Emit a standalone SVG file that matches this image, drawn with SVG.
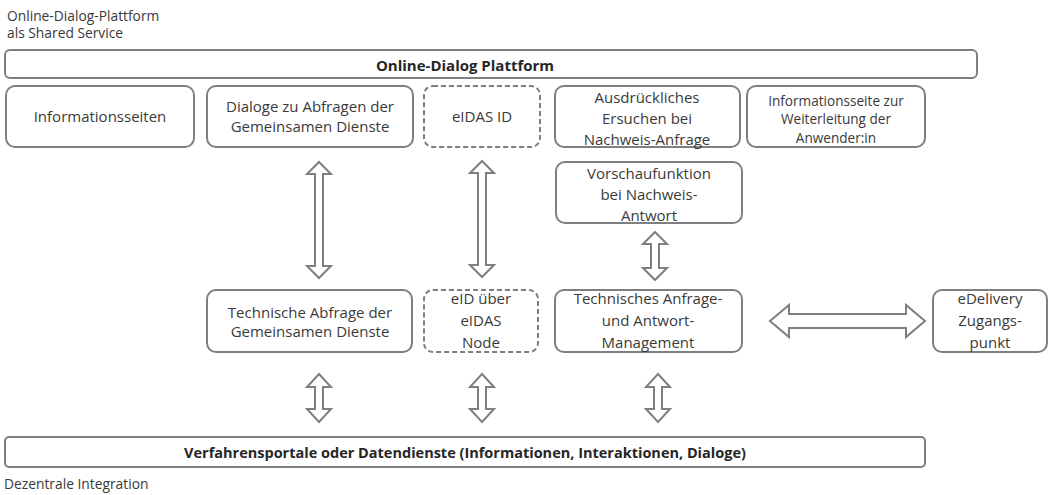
<svg xmlns="http://www.w3.org/2000/svg" width="1049" height="495" viewBox="0 0 1049 495">
<style>
.box{fill:#fff;stroke:#7f7f7f;stroke-width:2}
.dash{fill:#fff;stroke:#7f7f7f;stroke-width:2;stroke-dasharray:5 3}
.t{font-family:"Open Sans","Liberation Sans",sans-serif;font-size:15px;fill:#3a3a3a;text-anchor:middle;dominant-baseline:central}
.s{font-family:"Open Sans","Liberation Sans",sans-serif;font-size:13.8px;fill:#3a3a3a}
.b{font-weight:bold;fill:#262626}
.arr{fill:#fff;stroke:#7f7f7f;stroke-width:2;stroke-linejoin:miter}
</style>
<rect width="1049" height="495" fill="#fff"/>
<text class="s" x="7" y="21">Online-Dialog-Plattform</text>
<text class="s" x="7" y="38">als Shared Service</text>
<text class="s" x="4" y="489">Dezentrale Integration</text>

<g id="connectors">
<path class="arr" d="M319,162 L331,174 L323,174 L323,266 L331,266 L319,278 L307,266 L315,266 L315,174 L307,174 Z"/>
<path class="arr" d="M482,161 L494,173 L486,173 L486,265 L494,265 L482,277 L470,265 L478,265 L478,173 L470,173 Z"/>
<path class="arr" d="M655,232 L667,244 L659,244 L659,268 L667,268 L655,280 L643,268 L651,268 L651,244 L643,244 Z"/>
<path class="arr" d="M770,321 L789,305 L789,314 L906,314 L906,305 L925,321 L906,337 L906,328 L789,328 L789,337 Z"/>
<path class="arr" d="M319,374 L331,387 L323,387 L323,409 L331,409 L319,422 L307,409 L315,409 L315,387 L307,387 Z"/>
<path class="arr" d="M482,374 L494,387 L486,387 L486,409 L494,409 L482,422 L470,409 L478,409 L478,387 L470,387 Z"/>
<path class="arr" d="M658,374 L670,387 L662,387 L662,409 L670,409 L658,422 L646,409 L654,409 L654,387 L646,387 Z"/>
</g>

<g id="platform">
<rect class="box" x="5" y="50" width="972" height="28" rx="5"/>
<text class="t b" x="465" y="64.5">Online-Dialog Plattform</text>
</g>
<g id="informationsseiten">
<rect class="box" x="6" y="86" width="188" height="61" rx="9"/>
<text class="t" x="100" y="116">Informationsseiten</text>
</g>
<g id="dialoge">
<rect class="box" x="207" y="86" width="206" height="61" rx="9"/>
<text class="t" x="310" y="106">Dialoge zu Abfragen der</text>
<text class="t" x="310" y="126">Gemeinsamen Dienste</text>
</g>
<g id="eidas-id">
<rect class="dash" x="424" y="86" width="116" height="61" rx="9"/>
<text class="t" x="482" y="116">eIDAS ID</text>
</g>
<g id="ersuchen">
<rect class="box" x="555" y="86" width="185" height="61" rx="9"/>
<text class="t" x="647" y="97">Ausdrückliches</text>
<text class="t" x="647" y="118">Ersuchen bei</text>
<text class="t" x="647" y="139">Nachweis-Anfrage</text>
</g>
<g id="weiterleitung">
<rect class="box" x="747" y="86" width="178" height="61" rx="9"/>
<text class="t" x="836" y="100" style="font-size:13.6px">Informationsseite zur</text>
<text class="t" x="836" y="118" style="font-size:13.6px">Weiterleitung der</text>
<text class="t" x="836" y="137" style="font-size:13.6px">Anwender:in</text>
</g>
<g id="vorschau">
<rect class="box" x="556" y="162" width="186" height="61" rx="9"/>
<text class="t" x="649" y="173">Vorschaufunktion</text>
<text class="t" x="649" y="194">bei Nachweis-</text>
<text class="t" x="649" y="215">Antwort</text>
</g>
<g id="technische-abfrage">
<rect class="box" x="207" y="290" width="205" height="62" rx="9"/>
<text class="t" x="310" y="312">Technische Abfrage der</text>
<text class="t" x="310" y="331">Gemeinsamen Dienste</text>
</g>
<g id="eid-node">
<rect class="dash" x="424" y="290" width="114" height="62" rx="9"/>
<text class="t" x="481" y="298">eID über</text>
<text class="t" x="481" y="320">eIDAS</text>
<text class="t" x="481" y="342">Node</text>
</g>
<g id="management">
<rect class="box" x="555" y="290" width="187" height="62" rx="9"/>
<text class="t" x="648" y="298">Technisches Anfrage-</text>
<text class="t" x="648" y="320">und Antwort-</text>
<text class="t" x="648" y="342">Management</text>
</g>
<g id="edelivery">
<rect class="box" x="933" y="290" width="114" height="62" rx="9"/>
<text class="t" x="990" y="298">eDelivery</text>
<text class="t" x="990" y="320">Zugangs-</text>
<text class="t" x="990" y="342">punkt</text>
</g>
<g id="verfahrensportale">
<rect class="box" x="5" y="437" width="920" height="30" rx="4"/>
<text class="t b" x="465" y="452" style="font-size:14.5px">Verfahrensportale oder Datendienste (Informationen, Interaktionen, Dialoge)</text>
</g>
</svg>
